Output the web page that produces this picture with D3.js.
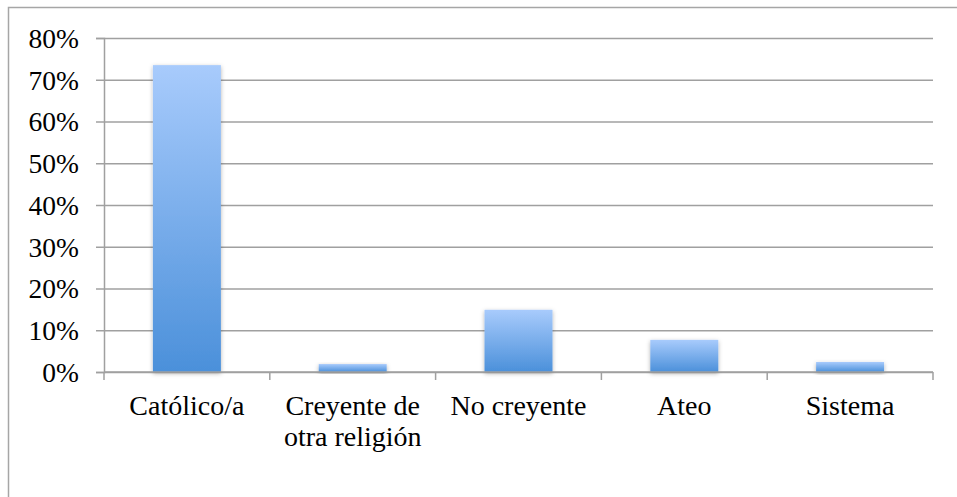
<!DOCTYPE html>
<html>
<head>
<meta charset="utf-8">
<script src="https://cdn.jsdelivr.net/npm/d3@7"></script>
<style>
  body { margin: 0; background: #fff; }
  svg text { font-family: "Liberation Serif", "DejaVu Serif", serif; fill: #000; }
</style>
</head>
<body>
<div id="chart"></div>
<script>
// Chart data
var categories = ["Católico/a", "Creyente de\notra religión", "No creyente", "Ateo", "Sistema"];
var values = [0.735, 0.019, 0.149, 0.077, 0.024];
var yTicks = [0, 0.1, 0.2, 0.3, 0.4, 0.5, 0.6, 0.7, 0.8];

var width = 957, height = 497;
var margin = {top: 38, right: 24, bottom: 125, left: 104};
var plotW = width - margin.left - margin.right;
var plotH = height - margin.top - margin.bottom;

var svg = d3.select("#chart").append("svg")
    .attr("width", width)
    .attr("height", height);

// outer frame (top + left visible)
svg.append("path")
    .attr("d", "M8.5,497 L8.5,7.5 L957,7.5")
    .attr("fill", "none")
    .attr("stroke", "#a6a6a6")
    .attr("stroke-width", 1.5);

var defs = svg.append("defs");
var grad = defs.append("linearGradient")
    .attr("id", "barGrad")
    .attr("x1", 0).attr("y1", 0).attr("x2", 0).attr("y2", 1);
grad.append("stop").attr("offset", "0%").attr("stop-color", "#a8cbfc");
grad.append("stop").attr("offset", "100%").attr("stop-color", "#4b90da");

var shadow = defs.append("filter").attr("id", "shadow")
    .attr("x", "-20%").attr("y", "-20%").attr("width", "140%").attr("height", "140%");
shadow.append("feDropShadow")
    .attr("dx", 0).attr("dy", 1.5).attr("stdDeviation", 2)
    .attr("flood-color", "#000").attr("flood-opacity", 0.3);

var g = svg.append("g")
    .attr("transform", "translate(" + margin.left + "," + margin.top + ")");

var x = d3.scaleBand().domain(categories).range([0, plotW]).paddingInner(0.59).paddingOuter(0.295);
var y = d3.scaleLinear().domain([0, 0.8]).range([plotH, 0]);

// horizontal grid
g.append("g")
    .attr("class", "grid")
    .call(d3.axisLeft(y).tickValues(yTicks).tickSize(-plotW).tickFormat(""))
    .call(function(s) {
      s.select(".domain").remove();
      s.selectAll("line").attr("stroke", "#a0a0a0").attr("stroke-width", 1.5);
    });

// y axis
g.append("g")
    .call(d3.axisLeft(y).tickValues(yTicks).tickSize(8).tickPadding(17).tickFormat(d3.format(".0%")))
    .call(function(s) {
      s.select(".domain").attr("stroke", "#a0a0a0").attr("stroke-width", 1.5);
      s.selectAll("line").attr("stroke", "#a0a0a0").attr("stroke-width", 1.5);
      s.selectAll("text").style("font-size", "27.5px").attr("dy", "0.34em");
    });

// bars
g.selectAll("rect.bar")
    .data(values)
    .enter().append("rect")
    .attr("class", "bar")
    .attr("x", function(d, i) { return x(categories[i]); })
    .attr("y", function(d) { return y(d); })
    .attr("width", x.bandwidth())
    .attr("height", function(d) { return plotH - y(d); })
    .attr("fill", "url(#barGrad)")
    .attr("filter", "url(#shadow)");

// x axis with ticks between categories
var step = x.step();
var xAxis = g.append("g").attr("transform", "translate(0," + plotH + ")");
xAxis.append("line")
    .attr("x1", 0).attr("x2", plotW)
    .attr("stroke", "#a0a0a0").attr("stroke-width", 1.5);
xAxis.selectAll("line.tick")
    .data(d3.range(categories.length + 1))
    .enter().append("line")
    .attr("class", "tick")
    .attr("x1", function(d) { return d * step; })
    .attr("x2", function(d) { return d * step; })
    .attr("y1", 0).attr("y2", 8)
    .attr("stroke", "#a0a0a0").attr("stroke-width", 1.5);

var labels = xAxis.selectAll("text.cat")
    .data(categories)
    .enter().append("text")
    .attr("class", "cat")
    .attr("text-anchor", "middle")
    .attr("x", function(d) { return x(d) + x.bandwidth() / 2; })
    .attr("y", 43)
    .style("font-size", "28px");
labels.each(function(d) {
  var t = d3.select(this);
  d.split("\n").forEach(function(line, i) {
    t.append("tspan")
      .attr("x", x(d) + x.bandwidth() / 2)
      .attr("dy", i === 0 ? 0 : 31)
      .text(line);
  });
});
</script>
</body>
</html>
